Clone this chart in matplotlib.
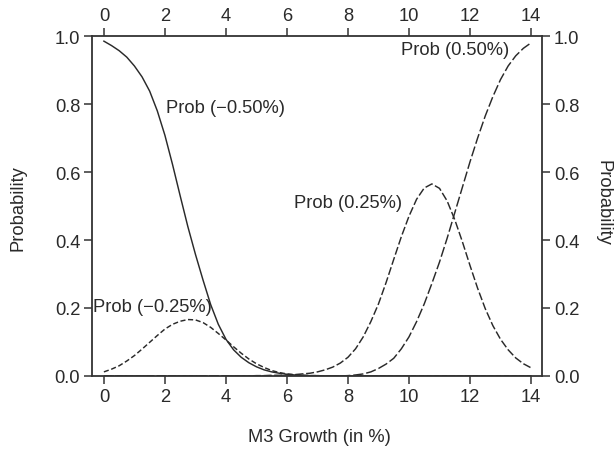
import numpy as np
import matplotlib
matplotlib.use("Agg")
import matplotlib.pyplot as plt

plt.rcParams['font.family'] = ['Liberation Sans', 'DejaVu Sans']

# M3 growth grid (in %), every 0.25
growth = np.arange(0, 14.25, 0.25)

# Prob (-0.50%)
prob_m050 = [0.985, 0.972, 0.957, 0.938, 0.912, 0.880, 0.838, 0.780, 0.708, 0.622,
             0.530, 0.440, 0.358, 0.282, 0.210, 0.152, 0.108, 0.077, 0.055, 0.039,
             0.027, 0.018, 0.012, 0.008, 0.005, 0.003, 0.002, 0.001, 0.001, 0.0,
             0.0, 0.0, 0.0, 0.0, 0.0, 0.0, 0.0, 0.0, 0.0, 0.0,
             0.0, 0.0, 0.0, 0.0, 0.0, 0.0, 0.0, 0.0, 0.0, 0.0,
             0.0, 0.0, 0.0, 0.0, 0.0, 0.0, 0.0]
# Prob (-0.25%)
prob_m025 = [0.012, 0.020, 0.030, 0.044, 0.060, 0.079, 0.099, 0.119, 0.138, 0.152,
             0.161, 0.166, 0.165, 0.157, 0.143, 0.125, 0.106, 0.086, 0.067, 0.050,
             0.036, 0.025, 0.016, 0.010, 0.006, 0.004, 0.002, 0.001, 0.001, 0.0,
             0.0, 0.0, 0.0, 0.0, 0.0, 0.0, 0.0, 0.0, 0.0, 0.0,
             0.0, 0.0, 0.0, 0.0, 0.0, 0.0, 0.0, 0.0, 0.0, 0.0,
             0.0, 0.0, 0.0, 0.0, 0.0, 0.0, 0.0]
# Prob (0.25%)
prob_p025 = [0.0, 0.0, 0.0, 0.0, 0.0, 0.0, 0.0, 0.0, 0.0, 0.0,
             0.0, 0.0, 0.0, 0.0, 0.0, 0.0, 0.0, 0.0, 0.0, 0.0,
             0.001, 0.001, 0.002, 0.002, 0.003, 0.004, 0.006, 0.008, 0.012, 0.018,
             0.026, 0.038, 0.055, 0.080, 0.115, 0.160, 0.212, 0.275, 0.343, 0.410,
             0.470, 0.520, 0.553, 0.565, 0.552, 0.515, 0.460, 0.395, 0.325, 0.258,
             0.198, 0.148, 0.108, 0.077, 0.053, 0.036, 0.024]
# Prob (0.50%)
prob_p050 = [0.0, 0.0, 0.0, 0.0, 0.0, 0.0, 0.0, 0.0, 0.0, 0.0,
             0.0, 0.0, 0.0, 0.0, 0.0, 0.0, 0.0, 0.0, 0.0, 0.0,
             0.0, 0.0, 0.0, 0.0, 0.0, 0.0, 0.0, 0.0, 0.0, 0.0,
             0.0, 0.0, 0.001, 0.003, 0.006, 0.012, 0.022, 0.035, 0.052, 0.080,
             0.115, 0.160, 0.212, 0.272, 0.335, 0.405, 0.480, 0.555, 0.630, 0.700,
             0.765, 0.822, 0.872, 0.912, 0.942, 0.964, 0.980]

xticks = [0, 2, 4, 6, 8, 10, 12, 14]
yticks = [0.0, 0.2, 0.4, 0.6, 0.8, 1.0]

ink = '#2a2a2a'
fs = 13.2

fig = plt.figure(figsize=(6.15, 4.52), dpi=100)
ax = fig.add_axes([0.1496, 0.166, 0.7317, 0.752])

ax.plot(growth, prob_m050, color=ink, lw=1.05, ls='-')
ax.plot(growth, prob_m025, color=ink, lw=1.05, dashes=(3.5, 1.8))
ax.plot(growth, prob_p025, color=ink, lw=1.05, dashes=(5.5, 1.8))
ax.plot(growth, prob_p050, color=ink, lw=1.05, dashes=(7.0, 2.0))

ax.set_xlim(-0.39, 14.36)
ax.set_ylim(0, 1)
ax.set_xticks(xticks)
ax.set_yticks(yticks)
ax.set_yticklabels(['%.1f' % v for v in yticks])

for s in ax.spines.values():
    s.set_color('#333333')
    s.set_linewidth(1.3)
ax.tick_params(direction='out', length=5.5, width=1.1, color='#333333',
               labelcolor=ink, labelsize=fs, pad=3,
               top=True, right=True, labeltop=True, labelright=True)

ax.text(2.03, 0.79, 'Prob (\u22120.50%)', fontsize=fs, color=ink, ha='left', va='center')
ax.text(-0.36, 0.205, 'Prob (\u22120.25%)', fontsize=fs, color=ink, ha='left', va='center')
ax.text(9.77, 0.51, 'Prob (0.25%)', fontsize=fs, color=ink, ha='right', va='center')
ax.text(13.3, 0.96, 'Prob (0.50%)', fontsize=fs, color=ink, ha='right', va='center')

fig.text(0.52, 0.033, 'M3 Growth (in %)', fontsize=fs, color=ink, ha='center', va='center')
fig.text(0.029, 0.54, 'Probability', fontsize=fs, color=ink, rotation=90, ha='center', va='center')
fig.text(0.98, 0.55, 'Probability', fontsize=fs, color=ink, rotation=270, ha='center', va='center')

fig.savefig('out.png', dpi=100, facecolor='white')
